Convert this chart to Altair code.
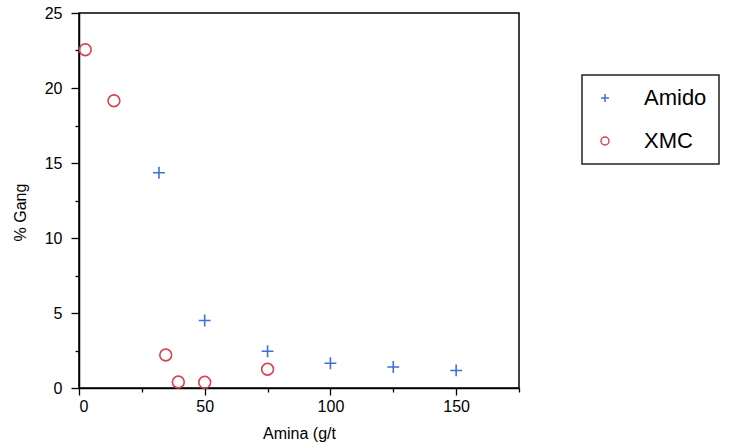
import altair as alt
import pandas as pd

# Amido series (blue plus markers)
amido_x = [31.8, 50, 75, 100, 125, 150]
amido_y = [14.35, 4.5, 2.45, 1.65, 1.4, 1.17]

# XMC series (red open circles)
xmc_x = [2.5, 13.9, 34.5, 39.5, 50, 75]
xmc_y = [22.55, 19.15, 2.2, 0.4, 0.38, 1.25]

series_names = ["Amido", "XMC"]
x_ticks = [0, 25, 50, 75, 100, 125, 150, 175]
y_ticks = [0, 2.5, 5, 7.5, 10, 12.5, 15, 17.5, 20, 22.5, 25]

df = pd.concat([
    pd.DataFrame({"amina": amido_x, "gang": amido_y, "serie": "Amido"}),
    pd.DataFrame({"amina": xmc_x, "gang": xmc_y, "serie": "XMC"}),
])

plus_path = "M-1,0L1,0M0,-1L0,1"
FONT = "Liberation Sans"

legend_opts = dict(
    title=None,
    orient="none",
    legendX=503,
    legendY=62,
    labelExpr="datum.label + '        '",
)

chart = alt.Chart(df).mark_point(filled=False, size=140, strokeWidth=1.6, opacity=1).encode(
    x=alt.X(
        "amina:Q",
        scale=alt.Scale(domain=[0, 175], nice=False, zero=False),
        axis=alt.Axis(
            title="Amina (g/t",
            values=x_ticks,
            labelExpr="datum.value % 50 == 0 ? datum.label : ''",
            tickSize={"condition": {"test": "datum.value % 50 == 0", "value": 7}, "value": 4},
            labelPadding=3,
            titlePadding=11,
        ),
    ),
    y=alt.Y(
        "gang:Q",
        scale=alt.Scale(domain=[0, 25], nice=False, zero=False),
        axis=alt.Axis(
            title="% Gang",
            values=y_ticks,
            labelExpr="datum.value % 5 == 0 ? datum.label : ''",
            tickSize={"condition": {"test": "datum.value % 5 == 0", "value": 8}, "value": 4},
            labelPadding=9,
            titlePadding=16,
            titleY=199,
        ),
    ),
    color=alt.Color(
        "serie:N",
        scale=alt.Scale(domain=series_names, range=["#3f6fdd", "#d8434f"]),
        legend=alt.Legend(**legend_opts),
    ),
    shape=alt.Shape(
        "serie:N",
        scale=alt.Scale(domain=series_names, range=[plus_path, "circle"]),
        legend=alt.Legend(**legend_opts),
    ),
).properties(
    width=440,
    height=375,
    autosize=alt.AutoSizeParams(type="none"),
    padding={"left": 79, "top": 13, "right": 213, "bottom": 57},
).configure(
    font=FONT,
).configure_view(
    stroke="#000000",
    strokeWidth=1.5,
).configure_axis(
    domainColor="#000000",
    domainWidth=1.5,
    tickColor="#000000",
    tickWidth=1.3,
    labelColor="#000000",
    titleColor="#000000",
    labelFont=FONT,
    titleFont=FONT,
    labelFontSize=16,
    titleFontSize=16,
    titleFontWeight="normal",
    grid=False,
).configure_legend(
    strokeColor="#222222",
    strokeWidth=1.5,
    fillColor="#ffffff",
    padding=12,
    rowPadding=21,
    symbolSize=64,
    symbolStrokeWidth=1.5,
    labelOffset=28,
    labelFont=FONT,
    labelFontSize=22,
    labelColor="#000000",
)

chart.save("out.html", embed_options={"renderer": "svg", "actions": False})
